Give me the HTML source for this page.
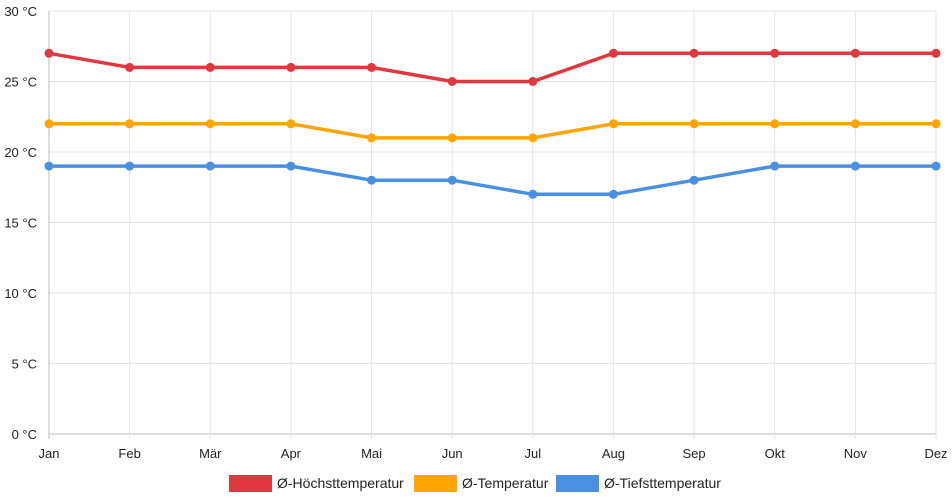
<!DOCTYPE html>
<html><head><meta charset="utf-8"><style>
body{margin:0;background:#fff;font-family:"Liberation Sans",sans-serif;overflow:hidden;}
svg{display:block;}
svg text{font-family:"Liberation Sans",sans-serif;font-size:13px;fill:#222;}
svg text.leg{font-size:14px;}
</style></head><body>
<svg id="c" width="952" height="500"></svg>
<script>
const months=["Jan","Feb","Mär","Apr","Mai","Jun","Jul","Aug","Sep","Okt","Nov","Dez"];
const highTemps=[27,26,26,26,26,25,25,27,27,27,27,27];
const avgTemps=[22,22,22,22,21,21,21,22,22,22,22,22];
const lowTemps=[19,19,19,19,18,18,17,17,18,19,19,19];
const yTicks=[0,5,10,15,20,25,30];
const seriesNames=["Ø-Höchsttemperatur","Ø-Temperatur","Ø-Tiefsttemperatur"];
const seriesColors=["#e0383e","#ffa500","#4a90e2"];
const svg=document.getElementById('c');
const NS="http://www.w3.org/2000/svg";
const x0=49,x1=936,yTop=11,yBot=434;
const xs=i=>x0+i*(x1-x0)/(months.length-1);
const ys=v=>yBot-(v/30)*(yBot-yTop);
function mk(t,a){const e=document.createElementNS(NS,t);for(const k in a)e.setAttribute(k,a[k]);svg.appendChild(e);return e;}
yTicks.forEach(v=>{
  const l=mk('line',{x1:x0,x2:x1,y1:ys(v),y2:ys(v),stroke:v===0?'#bbb':'#e5e5e5'});
  
  
  const t=mk('text',{x:37,y:ys(v)+5,'text-anchor':'end'});
  t.textContent=v+" °C";
  
  
});
months.forEach((m,i)=>{
  const l=mk('line',{x1:xs(i),x2:xs(i),y1:yTop,y2:yBot+5,stroke:i===0?'#bbb':'#e5e5e5'});
  
  
  const t=mk('text',{x:xs(i),y:458,'text-anchor':'middle'});
  t.textContent=m;
  
  
});
[highTemps,avgTemps,lowTemps].forEach((d,s)=>{
  const p=mk('polyline',{points:d.map((v,i)=>xs(i)+','+ys(v)).join(' '),fill:'none',stroke:seriesColors[s],'stroke-width':3.5,'stroke-linejoin':'round'});
  
  
  d.forEach((v,i)=>{
    const c=mk('circle',{cx:xs(i),cy:ys(v),r:4.5,fill:seriesColors[s]});
    
    
  });
});
const legX=[229,414,556];
seriesNames.forEach((n,s)=>{
  const r=mk('rect',{x:legX[s],y:475,width:43,height:17,fill:seriesColors[s]});
  
  
  const t=mk('text',{x:legX[s]+48,y:488,'class':'leg'});
  t.textContent=n;
  
  
});
</script>
</body></html>
